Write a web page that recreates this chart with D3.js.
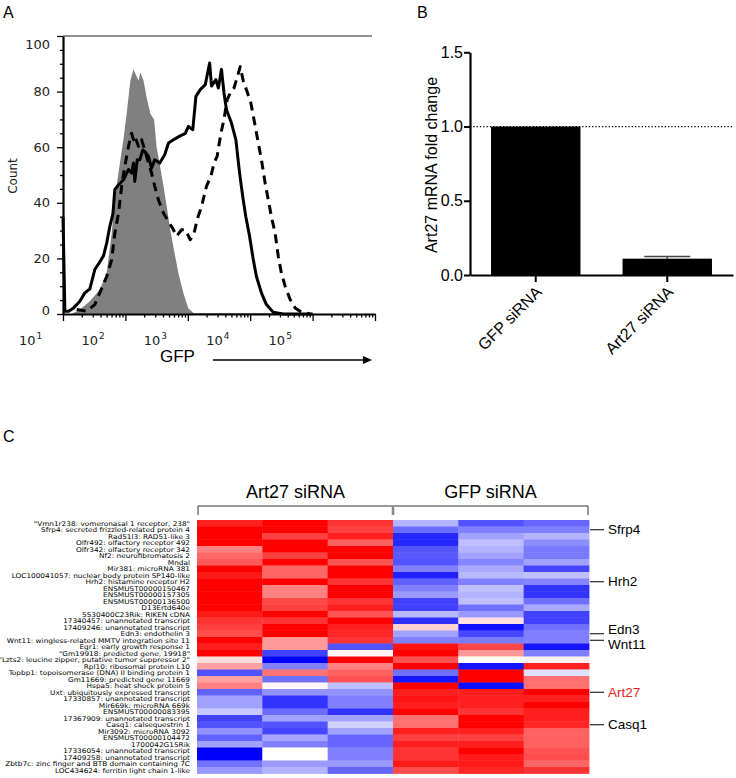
<!DOCTYPE html>
<html><head><meta charset="utf-8">
<script src="https://cdn.jsdelivr.net/npm/d3@7/dist/d3.min.js"></script>
<style>body{margin:0;background:#fff}svg{display:block}</style>
</head><body>
<script>
// ---------------- Panel A data (flow cytometry histograms) ----------------
const flowYTicks = [0, 20, 40, 60, 80, 100];
const flowXDecades = [1, 2, 3, 4, 5];           // labelled decades 10^1 .. 10^5
// log10(GFP) and count for the grey filled control histogram
const filledExp   = [1.14,1.27,1.43,1.59,1.70,1.78,1.83,1.89,1.97,2.02,2.08,2.13,2.17,2.21,2.24,2.29,2.34,2.40,2.46,2.50,2.55,2.61,2.66,2.71,2.77,2.85,2.93,3.01,3.09,3.6,5.0];
const filledCount = [0,1.6,4.6,8.8,14.7,29,41,51,63,72,84,88,86,84,87,84,78,72,70,60,54,46,39,31.5,24,14.7,7.5,2,0.4,0.4,0.4];
// solid black histogram
const solidExp   = [1.0,1.03,1.09,1.17,1.27,1.35,1.43,1.51,1.57,1.65,1.70,1.75,1.80,1.83,1.89,1.97,2.05,2.10,2.13,2.15,2.19,2.23,2.28,2.31,2.37,2.42,2.47,2.55,2.63,2.69,2.77,2.87,2.96,3.01,3.08,3.13,3.20,3.28,3.35,3.38,3.45,3.49,3.54,3.58,3.62,3.70,3.77,3.83,3.88,3.93,3.99,4.05,4.10,4.18,4.26,4.37,4.53,5.0];
const solidCount = [35,1,1,2.2,4.6,7.6,9,16,18,21,25.5,31.5,36,44.7,46.5,48.3,52,50.7,54.3,47.7,55.5,55.5,59,58.5,56.7,52.5,55.5,54.3,57.3,61.5,62.7,64,65,67.5,66.3,78.3,80.7,82.5,90.3,82,84.3,81.3,88,79.5,73.5,68.7,62.7,50.7,42.3,35,28,19.5,13.5,7.6,3.4,0.6,0,0];
// dashed black histogram
const dashedExp   = [1.22,1.38,1.51,1.59,1.70,1.78,1.83,1.89,1.94,1.99,2.05,2.10,2.13,2.15,2.21,2.26,2.31,2.37,2.42,2.47,2.53,2.61,2.69,2.77,2.82,2.90,2.96,3.04,3.10,3.15,3.22,3.30,3.37,3.42,3.47,3.53,3.58,3.63,3.69,3.74,3.79,3.84,3.89,3.95,4.01,4.06,4.13,4.18,4.24,4.29,4.34,4.40,4.45,4.50,4.56,4.64,4.72,4.80,4.88,4.96];
const dashedCount = [1.6,1,3.4,7.6,13.5,19.5,29,36.3,46,53,60.3,65,62.7,64,60.3,62.7,59,54.3,50.7,46,41,36.3,33.3,30.3,28,30.3,30.3,26.7,29,34,38.7,46,49.5,54.3,56.7,65,70,77,80,81.3,85,89,83.7,80,76,70,61.5,55.5,47,41,35,29,20.7,14.7,10,5.2,2.2,1,0.4,0];

// ---------------- Panel B data ----------------
const barGroups = ["GFP siRNA", "Art27 siRNA"];
const barValues = [1.0, 0.11];
const barErrors = [0, 0.015];
const barYTicks = [0, 0.5, 1.0, 1.5];

// ---------------- Panel C data (heatmap) ----------------
const heatGenes = [
 "\"Vmn1r238: vomeronasal 1 receptor, 238\"","Sfrp4: secreted frizzled-related protein 4","Rad51l3: RAD51-like 3",
 "Olfr492: olfactory receptor 492","Olfr342: olfactory receptor 342","Nf2: neurofibromatosis 2","Mndal",
 "Mir381: microRNA 381","LOC100041057: nuclear body protein SP140-like","Hrh2: histamine receptor H2",
 "ENSMUST00000150467","ENSMUST00000157305","ENSMUST00000136500","D13Ertd640e","5530400C23Rik: RIKEN cDNA",
 "17340457: unannotated transcript","17409246: unannotated transcript","Edn3: endothelin 3",
 "Wnt11: wingless-related MMTV integration site 11","Egr1: early growth response 1",
 "\"Gm19918: predicted gene, 19918\"","\"Lzts2: leucine zipper, putative tumor suppressor 2\"",
 "Rpl10: ribosomal protein L10","Topbp1: topoisomerase (DNA) II binding protein 1","Gm11669: predicted gene 11669",
 "Hspa5: heat shock protein 5","Uxt: ubiquitously expressed transcript","17330857: unannotated transcript",
 "Mir669k: microRNA 669k","ENSMUST00000083395","17367909: unannotated transcript","Casq1: calsequestrin 1",
 "Mir3092: microRNA 3092","ENSMUST00000104472","1700042G15Rik","17336054: unannotated transcript",
 "17409258: unannotated transcript","Zbtb7c: zinc finger and BTB domain containing 7C","LOC434624: ferritin light chain 1-like"];
const heatGroups = ["Art27 siRNA", "GFP siRNA"];
const art27Rep1 = [0.88,1,1,1,0.5,0.6,0.65,1,0.9,1,1,1,1,1,0.9,0.8,0.75,0.7,1,0.88,1,0.13,0.37,-0.68,0.37,0.5,-0.62,-0.37,-0.37,-0.22,-0.75,-0.68,-0.43,-0.62,-0.37,-1,-1,-0.55,-0.4];
const art27Rep2 = [1,1,0.75,1,1,0.75,1,0.6,0.6,1,0.5,0.5,0.72,0.75,1,0.8,1,1,0.4,0.4,-0.75,-1,-0.5,0.55,-0.56,0.03,-0.43,-0.8,-0.8,-0.58,-0.37,-0.68,-0.73,-0.35,-0.5,0,0,-0.4,-0.3];
const art27Rep3 = [0.8,0.75,0.88,0.62,1,1,0.68,1,1,0.8,1,1,0.8,0.88,0.68,1,0.88,0.85,0.8,-0.68,0.05,1,0.5,0.62,0.68,-0.25,-0.43,-0.5,-0.5,-0.8,-0.37,-0.18,-0.37,-0.6,-0.6,-0.5,-0.5,-0.4,-0.6];
const gfpRep1 = [-0.3,-0.58,-0.85,-0.85,-0.67,-0.65,-0.68,-0.5,-0.88,-0.62,-0.5,-0.4,-0.75,-0.75,-0.28,-0.82,0.18,-0.37,-0.5,0.93,1,0.68,1,-0.56,-0.92,1,0.88,0.92,0.88,1,0.56,0.56,0.88,0.75,0.88,0.8,0.8,0.9,0.7];
const gfpRep2 = [-0.68,-0.5,-0.37,-0.25,-0.3,-0.37,-0.48,-0.34,-0.28,-0.5,-0.25,-0.3,-0.25,-0.56,-0.4,0.12,-0.94,-0.72,-0.52,0.73,0.4,0,-0.92,1,1,-0.94,0.88,0.88,0.88,0.8,1,1,0.88,0.75,0.88,1,0.9,0.9,0.85];
const gfpRep3 = [-0.6,-0.5,-0.3,-0.45,-0.52,-0.52,-0.37,-0.73,-0.25,-0.48,-0.8,-0.8,-0.56,-0.34,-0.75,-0.75,-0.56,-0.5,-0.5,-0.92,-0.5,0.06,0.88,-0.12,0.56,0.56,1,0.88,1,0.88,0.88,0.85,0.62,0.62,0.62,0.68,0.7,0.6,0.8];
const highlightGenes = ["Sfrp4","Hrh2","Edn3","Wnt11","Art27","Casq1"];
const highlightRows  = [1, 9, 17, 18, 26, 31];

// ======================================================================
const W = 736, H = 778;
const svg = d3.select("body").append("svg").attr("width", W).attr("height", H)
  .style("font-family", "'Liberation Sans', Arial, sans-serif");

// ---------------- Panel A ----------------
const A = svg.append("g");
A.append("text").attr("x", 3).attr("y", 18).attr("font-size", 16).text("A");
const xA = d3.scaleLog().domain([10, 1e6]).range([63, 375]);
const yA = d3.scaleLinear().domain([0, 100]).range([314, 36]);
const toPts = (es, cs) => es.map((e, i) => ({x: Math.pow(10, e), y: cs[i]}));

A.append("path").datum(toPts(filledExp, filledCount))
  .attr("fill", "#808080")
  .attr("d", d3.area().x(d => xA(d.x)).y0(yA(0)).y1(d => yA(d.y)));
A.append("path").datum(toPts(dashedExp, dashedCount))
  .attr("fill", "none").attr("stroke", "#000").attr("stroke-width", 3)
  .attr("stroke-dasharray", "9,6").attr("stroke-linejoin", "round")
  .attr("d", d3.line().x(d => xA(d.x)).y(d => yA(d.y)));
A.append("path").datum(toPts(solidExp, solidCount))
  .attr("fill", "none").attr("stroke", "#000").attr("stroke-width", 3)
  .attr("stroke-linejoin", "round")
  .attr("d", d3.line().x(d => xA(d.x)).y(d => yA(d.y)));

// frame
A.append("line").attr("x1", 63).attr("x2", 372).attr("y1", yA(100)).attr("y2", yA(100))
  .attr("stroke", "#6a6a6a").attr("stroke-width", 1.5);
// y axis
const yAx = A.append("g").attr("transform", "translate(63,0)")
  .call(d3.axisLeft(yA).tickValues(d3.range(0, 101, 5)).tickSize(0).tickFormat(""));
yAx.select(".domain").attr("stroke-width", 2.2);
yAx.selectAll(".tick line").attr("x2", d => d % 20 === 0 ? -6 : -3).attr("stroke-width", 1.3);
A.selectAll(".ylab").data(flowYTicks).join("text")
  .attr("x", 50).attr("y", d => Math.min(310, Math.max(44, yA(d))))
  .attr("dy", "0.35em").attr("text-anchor", "end")
  .attr("font-family", "'DejaVu Sans', sans-serif").attr("font-size", 13).attr("fill", "#222")
  .text(d => d);
A.append("text").attr("transform", "translate(17,176) rotate(-90)")
  .attr("text-anchor", "middle").attr("font-family", "'DejaVu Sans', sans-serif")
  .attr("font-size", 12).attr("fill", "#222").text("Count");
// x axis
const minorVals = [];
for (let k = 1; k <= 5; k++) for (let m = 1; m <= 9; m++) minorVals.push(m * Math.pow(10, k));
minorVals.push(1e6);
const xAx = A.append("g").attr("transform", `translate(0,${yA(0)})`)
  .call(d3.axisBottom(xA).tickValues(minorVals).tickSize(0).tickFormat(""));
xAx.select(".domain").attr("stroke-width", 2.2);
xAx.selectAll(".tick line").attr("y2", d => Math.abs(Math.log10(d) % 1) < 1e-6 ? 7 : 3.5).attr("stroke-width", 1.3);
const xl = A.selectAll(".xlab").data(flowXDecades).join("text")
  .attr("x", d => xA(Math.pow(10, d)) - 44).attr("y", 345)
  .attr("font-family", "'DejaVu Sans', sans-serif").attr("font-size", 13).attr("fill", "#222");
xl.append("tspan").text("10");
xl.append("tspan").attr("dy", -6).attr("dx", 1).attr("font-size", 9).text(d => d);
A.append("text").attr("x", 160).attr("y", 362).attr("font-size", 17).text("GFP");
A.append("line").attr("x1", 213).attr("x2", 366).attr("y1", 360).attr("y2", 360)
  .attr("stroke", "#000").attr("stroke-width", 1.3);
A.append("path").attr("d", "M372,360 L363,356 L363,364 Z").attr("fill", "#000");

// ---------------- Panel B ----------------
const B = svg.append("g");
B.append("text").attr("x", 417).attr("y", 18).attr("font-size", 16).text("B");
const yB = d3.scaleLinear().domain([0, 1.5]).range([275, 52.3]);
const xB = d3.scaleBand().domain(barGroups).range([470, 733]).paddingInner(0.32).paddingOuter(0.16);
B.append("line").attr("x1", 470).attr("x2", 733).attr("y1", yB(1)).attr("y2", yB(1))
  .attr("stroke", "#000").attr("stroke-width", 1.2).attr("stroke-dasharray", "1.3,2");
B.selectAll(".bar").data(barGroups).join("rect")
  .attr("x", d => xB(d)).attr("width", xB.bandwidth())
  .attr("y", (d, i) => yB(barValues[i])).attr("height", (d, i) => yB(0) - yB(barValues[i]))
  .attr("fill", "#000");
barGroups.forEach((g, i) => {
  if (!barErrors[i]) return;
  const cx = xB(g) + xB.bandwidth() / 2;
  B.append("line").attr("x1", cx).attr("x2", cx).attr("y1", yB(barValues[i])).attr("y2", yB(barValues[i] + barErrors[i]))
    .attr("stroke", "#444").attr("stroke-width", 1.5);
  B.append("line").attr("x1", cx - 23).attr("x2", cx + 23)
    .attr("y1", yB(barValues[i] + barErrors[i])).attr("y2", yB(barValues[i] + barErrors[i]))
    .attr("stroke", "#444").attr("stroke-width", 1.5);
});
const yBx = B.append("g").attr("transform", "translate(470,0)")
  .call(d3.axisLeft(yB).tickValues(barYTicks).tickSize(6).tickSizeOuter(0).tickFormat(d3.format(".1f")));
yBx.select(".domain").attr("stroke-width", 2.2);
yBx.selectAll(".tick line").attr("stroke-width", 2);
yBx.selectAll(".tick text").attr("font-size", 16).attr("font-family", "'Liberation Sans', Arial, sans-serif").attr("x", -7);
const xBx = B.append("g").attr("transform", `translate(0,${yB(0)})`)
  .call(d3.axisBottom(xB).tickSize(7).tickSizeOuter(0));
xBx.select(".domain").attr("stroke-width", 2.2);
xBx.selectAll(".tick line").attr("stroke-width", 2);
xBx.selectAll(".tick text").attr("font-size", 16).attr("font-family", "'Liberation Sans', Arial, sans-serif")
  .attr("text-anchor", "end").attr("transform", "translate(3,14) rotate(-45)").attr("dy", "0.35em").attr("y", 0);
B.append("text").attr("transform", "translate(437,165) rotate(-90)").attr("text-anchor", "middle")
  .attr("font-size", 16).text("Art27 mRNA fold change");

// ---------------- Panel C ----------------
const C = svg.append("g");
C.append("text").attr("x", 3).attr("y", 442).attr("font-size", 16).text("C");
const cols = [art27Rep1, art27Rep2, art27Rep3, gfpRep1, gfpRep2, gfpRep3];
const xH = d3.scaleBand().domain(d3.range(cols.length)).range([197, 589]);
const yH = d3.scaleBand().domain(d3.range(heatGenes.length)).range([520, 773.5]);
const color = d3.scaleLinear().domain([-1, 0, 1]).range(["#0000ff", "#ffffff", "#ff0000"]);
cols.forEach((col, j) => {
  C.selectAll(".c" + j).data(col).join("rect")
    .attr("x", xH(j)).attr("width", xH.bandwidth() + 0.4)
    .attr("y", (d, i) => yH(i)).attr("height", yH.bandwidth() + 0.4)
    .attr("fill", d => color(d));
});
C.append("g").attr("transform", "translate(190,0) scale(1.13,1)")
  .selectAll(".gene").data(heatGenes).join("text")
  .attr("x", 0).attr("y", (d, i) => yH(i) + yH.bandwidth() / 2).attr("dy", "0.35em")
  .attr("text-anchor", "end").attr("font-family", "'DejaVu Sans', sans-serif")
  .attr("font-size", 6.5).attr("fill", "#000").text(d => d);
// group brackets
const gx = [xH(0) + 1, xH(3), xH(5) + xH.bandwidth() - 1];
C.append("path").attr("d", `M${gx[0]},515 V506 H${gx[2]} V515`).attr("fill", "none")
  .attr("stroke", "#333").attr("stroke-width", 1);
C.append("line").attr("x1", gx[1]).attr("x2", gx[1]).attr("y1", 506).attr("y2", 515)
  .attr("stroke", "#888").attr("stroke-width", 2.5);
C.selectAll(".grp").data(heatGroups).join("text")
  .attr("x", (d, i) => (gx[i] + gx[i + 1]) / 2).attr("y", 498).attr("text-anchor", "middle")
  .attr("font-size", 18).text(d => d);
// highlighted genes
const labDy = {Edn3: -4.5, Wnt11: 4.5};
highlightGenes.forEach((g, k) => {
  const y = yH(highlightRows[k]) + yH.bandwidth() / 2;
  C.append("line").attr("x1", 590).attr("x2", 604).attr("y1", y).attr("y2", y)
    .attr("stroke", "#000").attr("stroke-width", 1);
  C.append("text").attr("x", 608).attr("y", y + (labDy[g] || 0)).attr("dy", "0.35em")
    .attr("font-size", 13.5).attr("fill", g === "Art27" ? "#e3221f" : "#000").text(g);
});
</script>
</body></html>
